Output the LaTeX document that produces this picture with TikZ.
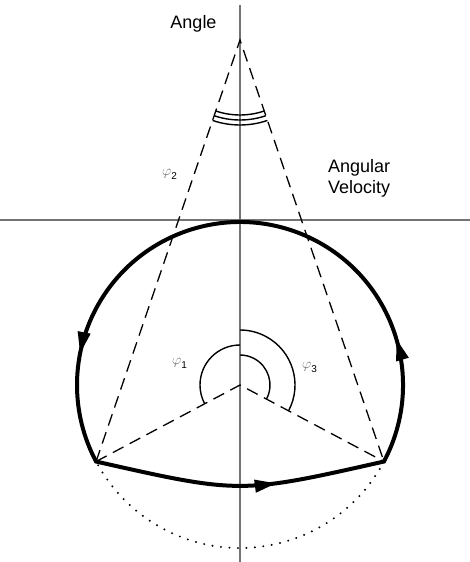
\documentclass[tikz,border=0pt]{standalone}
\usepackage{fontspec}
\setmainfont{Liberation Sans}
\usepackage{xcolor}
\usepackage{tikz}
\usetikzlibrary{arrows.meta,angles,decorations.markings}
\definecolor{blackmain}{HTML}{000000}
\definecolor{axisgray}{HTML}{747474}
\definecolor{phigray}{HTML}{6A6A6A}
\tikzset{
  every node/.append style={font=\fontsize{18}{21}\selectfont,inner sep=0pt},
  flowtip/.tip={Triangle[length=22pt,width=12pt]},
  axisline/.style={axisgray,line width=1.1pt},
  dashline/.style={blackmain,line width=1.3pt,dash pattern=on 12pt off 7pt},
  dotline/.style={blackmain,line width=2.2pt,line cap=round,dash pattern=on 0pt off 8.5pt},
  orbit/.style={blackmain,line width=4pt,line join=miter},
  anglearc/.style={draw=blackmain,line width=1.4pt},
  philabel/.style={anchor=west,font=\fontsize{14}{16}\selectfont}
}
\newcommand{\philab}[1]{\textcolor{phigray}{$\varphi$}\raisebox{-4pt}{\fontsize{10}{12}\selectfont #1}}

\begin{document}
\begin{tikzpicture}[x=1pt,y=1pt]
  \useasboundingbox (-240,-177) rectangle (230,385);
  \coordinate (O) at (0,0);
  \coordinate (A) at (0,345);
  \coordinate (T) at (0,163);
  \coordinate (L) at (208:163);
  \coordinate (R) at (-28:163);
  % axes
  \draw[axisline] (0,-177) -- (0,380);
  \draw[axisline] (-240,165) -- (230,165);
  % dashed rays
  \draw[dashline] (L) -- (A) -- (R);
  \draw[dashline] (L) -- (O) -- (R);
  % closed orbit
  \draw[orbit,postaction={decorate},decoration={markings,
      mark=at position 0.19 with {\arrow{flowtip}},
      mark=at position 0.435 with {\arrow{flowtip}},
      mark=at position 0.885 with {\arrow{flowtip}}}]
    (L) .. controls (0,-109) .. (R) arc[start angle=-28,end angle=208,radius=163] -- cycle;
  \draw[dotline] (R) arc[start angle=-28,end angle=-152,radius=163];
  % angle marks
  \foreach \rad in {75,80,85}
    \pic[anglearc,angle radius=\rad pt] {angle=L--A--R};
  \pic[anglearc,angle radius=40pt] {angle=T--O--L};
  \pic[anglearc,angle radius=30pt] {angle=R--O--T};
  \pic[anglearc,angle radius=55pt] {angle=R--O--T};
  % labels
  \node (angle) at (-46.5,361.5) {Angle};
  \node[anchor=north west,align=left] (velocity) at (88,226) {Angular\\Velocity};
  \node[philabel] (phi2) at (-78,211) {\philab{2}};
  \node[philabel] (phi1) at (-68,22) {\philab{1}};
  \node[philabel] (phi3) at (62,18) {\philab{3}};
\end{tikzpicture}
\end{document}
